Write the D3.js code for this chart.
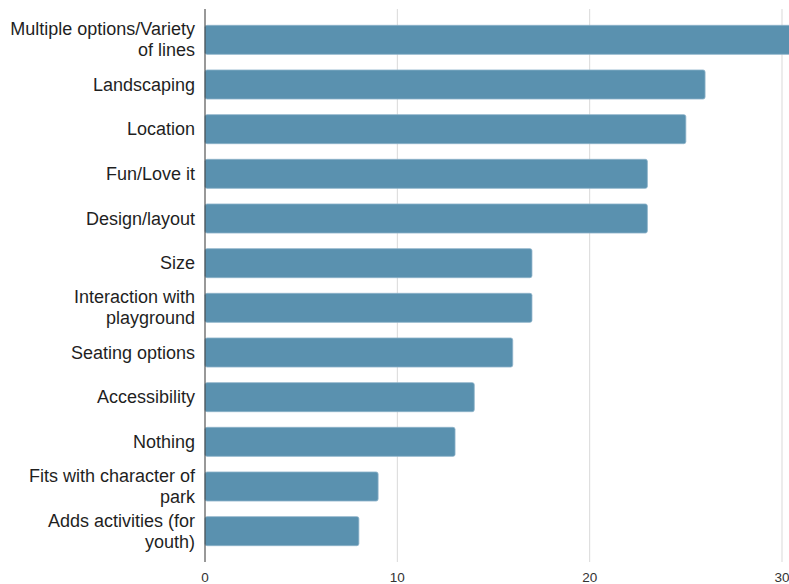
<!DOCTYPE html>
<html>
<head>
<meta charset="utf-8">
<script src="https://cdn.jsdelivr.net/npm/d3@7"></script>
<style>
  html, body { margin: 0; padding: 0; background: #fff; }
  svg { display: block; overflow: hidden; }
</style>
</head>
<body>
<div id="wrapper"></div>
<script>
// data
const categories = [
  "Multiple options/Variety of lines",
  "Landscaping",
  "Location",
  "Fun/Love it",
  "Design/layout",
  "Size",
  "Interaction with playground",
  "Seating options",
  "Accessibility",
  "Nothing",
  "Fits with character of park",
  "Adds activities (for youth)"
];
const counts = [31, 26, 25, 23, 23, 17, 17, 16, 14, 13, 9, 8];
const xTicks = [0, 10, 20, 30];

const data = categories.map((c, i) => ({ category: c, count: counts[i] }));

// dimensions
const width = 789;
const height = 584;
const plot = { left: 205, right: 782, top: 9, bottom: 562 };
const font = "'Liberation Sans', Arial, sans-serif";

const svg = d3.select("#wrapper").append("svg")
  .attr("width", width)
  .attr("height", height);

// scales
const xScale = d3.scaleLinear()
  .domain([0, 30])
  .range([plot.left, plot.right]);

const yScale = d3.scaleBand()
  .domain(categories)
  .range([17.5, 553.5])
  .paddingInner(0.35)
  .paddingOuter(0.175);

// grid
svg.append("g")
  .selectAll("line")
  .data(xTicks.slice(1))
  .join("line")
  .attr("x1", d => xScale(d))
  .attr("x2", d => xScale(d))
  .attr("y1", plot.top)
  .attr("y2", plot.bottom)
  .attr("stroke", "#d9d9d9")
  .attr("stroke-width", 1);

// bars
svg.append("g")
  .selectAll("rect")
  .data(data)
  .join("rect")
  .attr("x", xScale(0))
  .attr("y", d => yScale(d.category))
  .attr("width", d => xScale(d.count) - xScale(0))
  .attr("height", yScale.bandwidth())
  .attr("rx", 2)
  .attr("fill", "#5a91af")
  .attr("stroke", "#8db3c9")
  .attr("stroke-width", 0.8);

// y axis line
svg.append("line")
  .attr("x1", xScale(0))
  .attr("x2", xScale(0))
  .attr("y1", plot.top)
  .attr("y2", plot.bottom)
  .attr("stroke", "#333")
  .attr("stroke-width", 1);

// x tick labels
svg.append("g")
  .selectAll("text")
  .data(xTicks)
  .join("text")
  .attr("x", d => xScale(d))
  .attr("y", 581.5)
  .attr("text-anchor", "middle")
  .style("font-family", font)
  .style("font-size", "13.5px")
  .attr("fill", "#333")
  .text(d => d);

// category labels, wrapped to fit left margin
const maxLabelWidth = 192;
const lineHeight = 21;
const labels = svg.append("g")
  .selectAll("text")
  .data(data)
  .join("text")
  .attr("x", 195)
  .attr("text-anchor", "end")
  .style("font-family", font)
  .style("font-size", "18px")
  .attr("fill", "#1f1f1f");

labels.each(function (d) {
  const text = d3.select(this);
  const words = d.category.split(" ");
  let lines = [];
  let line = [];
  const probe = text.append("tspan");
  words.forEach(w => {
    line.push(w);
    probe.text(line.join(" "));
    if (probe.node().getComputedTextLength() > maxLabelWidth && line.length > 1) {
      line.pop();
      lines.push(line.join(" "));
      line = [w];
    }
  });
  lines.push(line.join(" "));
  probe.remove();

  const cy = yScale(d.category) + yScale.bandwidth() / 2;
  const y0 = cy - (lines.length - 1) * lineHeight / 2 + 6;
  lines.forEach((l, i) => {
    text.append("tspan")
      .attr("x", 195)
      .attr("y", y0 + i * lineHeight)
      .text(l);
  });
});
</script>
</body>
</html>
